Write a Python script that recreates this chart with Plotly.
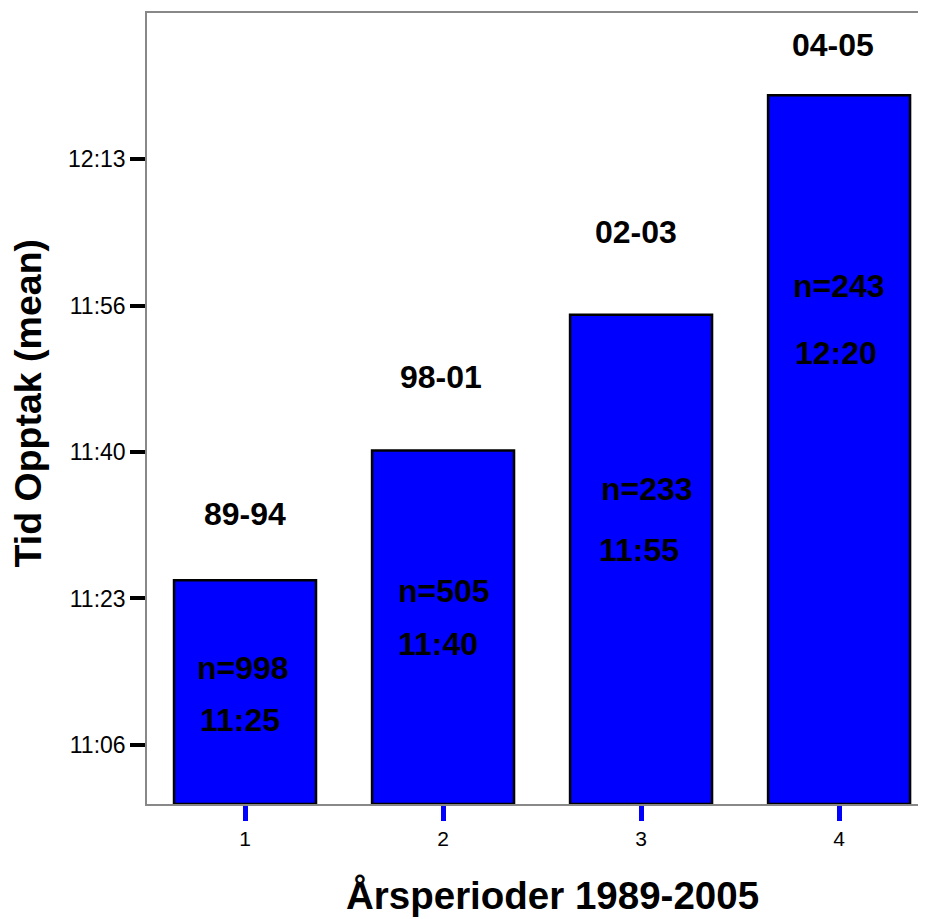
import plotly.graph_objects as go

# ---- data ----
categories = [1, 2, 3, 4]
mean_seconds = [41124, 42010, 42937, 44436]          # mean time of day, seconds
period_labels = ["89-94", "98-01", "02-03", "04-05"]
n_labels = ["n=998", "n=505", "n=233", "n=243"]
time_labels = ["11:25", "11:40", "11:55", "12:20"]
ytick_vals = [40000, 41000, 42000, 43000, 44000]
ytick_text = ["11:06", "11:23", "11:40", "11:56", "12:13"]

# label anchors (data units)
period_label_y = [41575, 42510, 43500, 44780]
period_label_dx = [0.0, -0.01, -0.025, -0.03]
n_label_y = [40526, 41051, 41750, 43133]
n_label_dx = [-0.01, 0.005, 0.03, 0.0]
time_label_y = [40170, 40689, 41330, 42676]
time_label_dx = [-0.025, -0.025, -0.01, -0.015]

Y_MIN, Y_MAX = 39597, 44997
FONT = "Liberation Sans, Arial, sans-serif"

fig = go.Figure()
fig.add_trace(go.Bar(
    x=categories,
    y=[v - Y_MIN for v in mean_seconds],
    base=Y_MIN,
    width=0.717,
    marker=dict(color="#0000FF", line=dict(color="black", width=2.5)),
    hoverinfo="skip",
))

lab_font = dict(size=32, color="black", family=FONT)
ann = []
for i, c in enumerate(categories):
    ann.append(dict(x=c + period_label_dx[i], y=period_label_y[i],
                    text="<b>%s</b>" % period_labels[i], showarrow=False,
                    xanchor="center", yanchor="middle", font=lab_font))
    ann.append(dict(x=c + n_label_dx[i], y=n_label_y[i],
                    text="<b>%s</b>" % n_labels[i], showarrow=False,
                    xanchor="center", yanchor="middle", font=lab_font))
    ann.append(dict(x=c + time_label_dx[i], y=time_label_y[i],
                    text="<b>%s</b>" % time_labels[i], showarrow=False,
                    xanchor="center", yanchor="middle", font=lab_font))

ann.append(dict(xref="paper", yref="paper", x=0.521, y=-0.1163,
                xanchor="center", yanchor="middle",
                text="<b>Årsperioder 1989-2005</b>", showarrow=False,
                font=dict(size=38.5, color="black", family=FONT)))
ann.append(dict(xref="paper", yref="paper", x=-0.1515, y=0.5076,
                xanchor="center", yanchor="middle",
                text="<b>Tid Opptak (mean)</b>", showarrow=False, textangle=-90,
                font=dict(size=37.5, color="black", family=FONT)))

# page body adds an 8px offset; figure is sized/margined to compensate
fig.update_layout(
    width=918, height=911,
    margin=dict(l=139, r=0, t=5, b=115),
    plot_bgcolor="white", paper_bgcolor="white",
    showlegend=False,
    annotations=ann,
    xaxis=dict(range=[0.505, 4.439], tickvals=categories,
               ticktext=[str(c) for c in categories],
               ticks="outside", ticklen=15, tickwidth=5, tickcolor="#0000FF",
               showline=True, linecolor="#888888", linewidth=1.5, mirror=True,
               showgrid=False, zeroline=False,
               tickfont=dict(size=21, color="black", family=FONT)),
    yaxis=dict(range=[Y_MIN, Y_MAX], tickvals=ytick_vals, ticktext=ytick_text,
               ticks="outside", ticklen=15, tickwidth=4, tickcolor="black",
               showline=True, linecolor="#888888", linewidth=1.5,
               showgrid=False, zeroline=False,
               tickfont=dict(size=23, color="black", family=FONT)),
)

fig.write_html("out.html")
